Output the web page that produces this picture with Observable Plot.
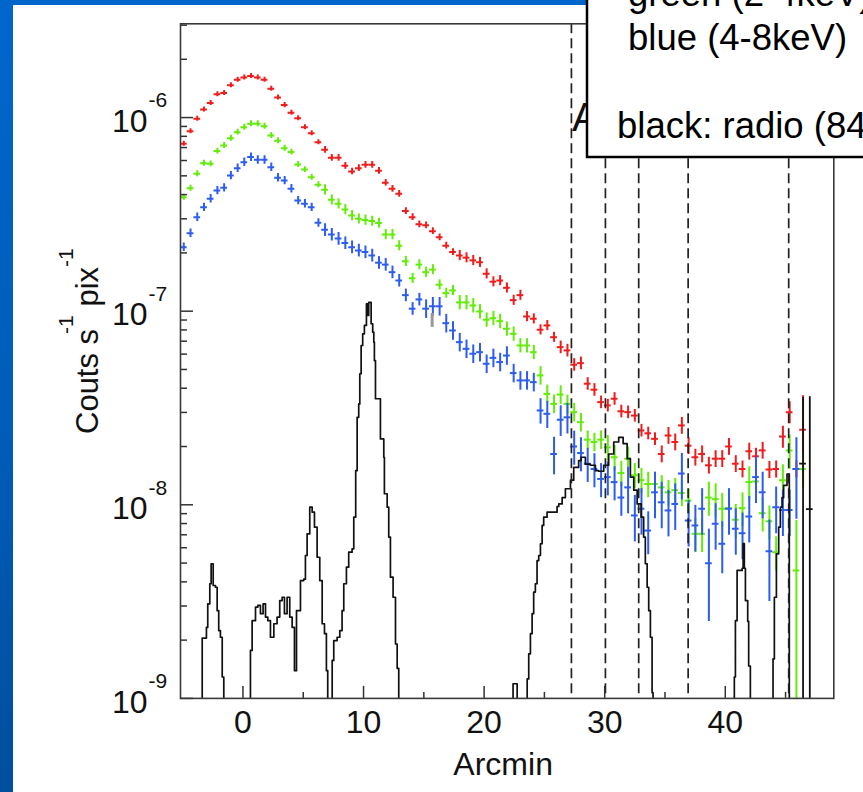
<!DOCTYPE html>
<html><head><meta charset="utf-8">
<script src="https://cdn.jsdelivr.net/npm/d3@7"></script>
<script src="https://cdn.jsdelivr.net/npm/@observablehq/plot@0.6"></script>
<style>
html,body{margin:0;padding:0;width:863px;height:792px;overflow:hidden;}
body{position:relative;background:linear-gradient(to bottom,#0066cc 0%,#005cb8 55%,#004e9e 100%);font-family:"Liberation Sans",Arial,Helvetica,sans-serif;}
#panel{position:absolute;left:13px;top:5px;right:0;bottom:0;background:#fff;}
#chart{position:absolute;left:0;top:0;}
#over{position:absolute;left:0;top:0;pointer-events:none;}
</style>
</head><body>
<div id="panel"></div>
<div id="chart"></div>
<svg id="over" width="863" height="792" font-family="Liberation Sans, Arial, sans-serif">
  <text x="98" y="434" transform="rotate(-90 98 434)" font-size="31" fill="#111">Couts s<tspan dx="-5" dy="-25" font-size="21">-1</tspan><tspan dy="25"> pix</tspan><tspan dy="-25" font-size="21">-1</tspan></text>
  <text x="572" y="131" font-size="40" fill="#111">A</text>
  <rect x="587" y="-10" width="300" height="167" fill="#fff" stroke="#000" stroke-width="2.5"/>
  <text x="628" y="6" font-size="36.5" fill="#000">green (2-4keV)</text>
  <text x="628" y="50" font-size="36.5" fill="#000">blue (4-8keV)</text>
  <text x="617" y="138" font-size="36.5" fill="#000">black: radio (843 MHz)</text>
</svg>
<script>
// ---------- data ----------
const xGrid = [-4.91,-4.35,-3.79,-3.23,-2.68,-2.12,-1.56,-1.00,-0.44,0.11,
0.67,1.23,1.79,2.35,2.91,3.46,4.02,4.58,5.14,5.70,
6.26,6.81,7.37,7.93,8.49,9.05,9.61,10.16,10.72,11.28,
11.84,12.40,12.96,13.51,14.07,14.63,15.19,15.75,16.31,16.86,
17.42,17.98,18.54,19.10,19.66,20.21,20.77,21.33,21.89,22.45,
23.01,23.56,24.12,24.68,25.24,25.80,26.35,26.91,27.47,28.03,
28.59,29.15,29.70,30.26,30.82,31.38,31.94,32.50,33.05,33.61,
34.17,34.73,35.29,35.85,36.40,36.96,37.52,38.08,38.64,39.20,
39.75,40.31,40.87,41.43,41.99,42.55,43.10,43.66,44.22,44.78,
45.34,45.90,46.45,47.01];
const halfBin = 0.279;

const red = [7.32e-7,8.51e-7,9.86e-7,1.10e-6,1.19e-6,1.32e-6,1.34e-6,1.47e-6,1.57e-6,1.61e-6,
1.64e-6,1.61e-6,1.57e-6,1.41e-6,1.27e-6,1.16e-6,1.06e-6,9.93e-7,8.92e-7,8.30e-7,
7.46e-7,6.82e-7,6.20e-7,6.20e-7,5.64e-7,5.27e-7,5.48e-7,5.70e-7,5.70e-7,5.31e-7,
4.61e-7,4.29e-7,4.04e-7,3.29e-7,3.06e-7,2.81e-7,2.78e-7,2.59e-7,2.41e-7,2.18e-7,
2.02e-7,1.94e-7,1.89e-7,1.83e-7,1.79e-7,1.56e-7,1.42e-7,1.44e-7,1.32e-7,1.14e-7,
1.21e-7,9.39e-8,9.14e-8,8.02e-8,8.44e-8,7.34e-8,6.52e-8,6.27e-8,5.29e-8,5.39e-8,
4.22e-8,3.93e-8,3.39e-8,3.26e-8,3.53e-8,3.04e-8,3.01e-8,2.89e-8,2.42e-8,2.34e-8,
2.19e-8,1.83e-8,2.28e-8,2.11e-8,2.57e-8,2.02e-8,1.76e-8,1.83e-8,1.60e-8,1.73e-8,
1.73e-8,2.00e-8,1.63e-8,1.53e-8,1.89e-8,1.78e-8,1.91e-8,1.52e-8,1.53e-8,2.25e-8,
3.01e-8,1.53e-8,2.44e-8];
const redErr = [0.03,0.03,0.03,0.03,0.03,0.03,0.03,0.03,0.03,0.03,
0.03,0.03,0.03,0.03,0.03,0.03,0.03,0.03,0.03,0.03,
0.03,0.04,0.04,0.04,0.04,0.04,0.04,0.04,0.04,0.04,
0.04,0.04,0.04,0.04,0.04,0.04,0.04,0.04,0.04,0.04,
0.04,0.06,0.06,0.06,0.06,0.06,0.06,0.06,0.06,0.06,
0.06,0.06,0.06,0.06,0.06,0.06,0.075,0.075,0.075,0.075,
0.075,0.075,0.075,0.075,0.075,0.075,0.075,0.075,0.075,0.075,
0.075,0.10,0.10,0.10,0.10,0.10,0.10,0.10,0.10,0.10,
0.10,0.10,0.10,0.10,0.10,0.10,0.10,0.10,0.10,0.13,
0.13,0.10,0.5];

const green = [3.88e-7,4.32e-7,5.13e-7,5.81e-7,5.77e-7,6.71e-7,7.18e-7,7.83e-7,8.41e-7,8.92e-7,
9.29e-7,9.29e-7,9.03e-7,8.08e-7,7.59e-7,6.95e-7,6.63e-7,5.73e-7,5.39e-7,4.92e-7,
4.50e-7,4.24e-7,3.76e-7,3.59e-7,3.35e-7,3.12e-7,3.00e-7,2.96e-7,2.92e-7,2.85e-7,
2.49e-7,2.49e-7,2.18e-7,1.81e-7,1.48e-7,1.74e-7,1.59e-7,1.64e-7,1.37e-7,1.24e-7,
1.28e-7,1.11e-7,1.11e-7,1.07e-7,9.96e-8,9.03e-8,9.20e-8,8.88e-8,8.11e-8,7.64e-8,
6.65e-8,6.65e-8,6.14e-8,4.66e-8,3.74e-8,3.32e-8,3.71e-8,3.32e-8,3.01e-8,2.67e-8,
2.17e-8,2.11e-8,2.17e-8,1.98e-8,1.76e-8,1.46e-8,1.73e-8,1.42e-8,1.34e-8,1.28e-8,
1.28e-8,1.23e-8,1.16e-8,1.19e-8,1.15e-8,1.05e-8,7.08e-9,7.08e-9,1.09e-8,1.07e-8,
9.54e-9,9.60e-9,8.37e-9,9.60e-9,1.31e-8,1.32e-8,9.05e-9,8.22e-9,5.69e-9,1.34e-8,
1.91e-8,4.58e-9,1.53e-8];
const greenErr = [0.035,0.035,0.035,0.035,0.035,0.035,0.035,0.035,0.035,0.035,
0.035,0.035,0.035,0.035,0.035,0.035,0.035,0.035,0.035,0.035,
0.035,0.06,0.06,0.06,0.06,0.06,0.06,0.06,0.06,0.06,
0.06,0.06,0.06,0.06,0.06,0.06,0.06,0.06,0.06,0.06,
0.06,0.085,0.085,0.085,0.085,0.085,0.085,0.085,0.085,0.085,
0.085,0.085,0.085,0.11,0.11,0.11,0.11,0.11,0.11,0.11,
0.11,0.11,0.11,0.15,0.15,0.15,0.15,0.15,0.15,0.15,
0.15,0.15,0.15,0.15,0.15,0.15,0.2,0.2,0.2,0.2,
0.2,0.2,0.2,0.2,0.2,0.2,0.2,0.2,0.2,0.2,
0.2,0.81,0.2];

const blue = [2.14e-7,2.53e-7,3.06e-7,3.44e-7,3.81e-7,4.20e-7,4.34e-7,5.02e-7,5.48e-7,5.88e-7,
6.25e-7,6.05e-7,6.05e-7,5.54e-7,4.89e-7,4.73e-7,4.29e-7,3.73e-7,3.59e-7,3.44e-7,
2.86e-7,2.63e-7,2.49e-7,2.37e-7,2.25e-7,2.14e-7,2.06e-7,2.02e-7,1.94e-7,1.78e-7,
1.74e-7,1.59e-7,1.44e-7,1.21e-7,1.03e-7,1.15e-7,1.03e-7,1.06e-7,1.06e-7,8.67e-8,
7.95e-8,6.92e-8,6.39e-8,6.03e-8,6.14e-8,5.35e-8,5.74e-8,5.46e-8,5.90e-8,4.79e-8,
4.39e-8,4.39e-8,4.30e-8,3.07e-8,2.95e-8,1.83e-8,2.75e-8,2.83e-8,2.00e-8,1.85e-8,
1.63e-8,1.53e-8,1.36e-8,1.39e-8,1.31e-8,1.09e-8,1.23e-8,8.81e-9,9.54e-9,7.36e-9,
1.16e-8,1.03e-8,9.35e-9,1.01e-8,1.45e-8,8.29e-9,7.82e-9,9.54e-9,4.99e-9,7.98e-9,
6.29e-9,9.54e-9,7.52e-9,7.13e-9,8.70e-9,1.39e-8,1.16e-8,5.76e-9,9.72e-9,9.4e-9,
9.4e-9,1.53e-8];
const blueErr = [0.05,0.05,0.05,0.05,0.05,0.05,0.05,0.05,0.05,0.05,
0.05,0.05,0.05,0.05,0.05,0.05,0.05,0.05,0.05,0.05,
0.05,0.075,0.075,0.075,0.075,0.075,0.075,0.075,0.075,0.075,
0.075,0.075,0.075,0.075,0.075,0.075,0.11,0.11,0.11,0.11,
0.11,0.11,0.11,0.11,0.11,0.11,0.11,0.11,0.11,0.11,
0.11,0.11,0.11,0.15,0.16,0.22,0.18,0.18,0.2,0.2,
0.2,0.2,0.2,0.2,0.2,0.2,0.27,0.27,0.27,0.25,
0.27,0.27,0.27,0.27,0.27,0.27,0.27,0.27,0.5,0.27,
0.3,0.27,0.27,0.27,0.27,0.27,0.27,0.45,0.27,0.27,
0.27,0.45];

const blackX = [46.45, 47.01];
const blackY = [1.63e-8, 9.5e-9];
const blackErr = [1.2, 2.8];

const Z = 1e-10; // radio zero level (below the axis floor)
const radioX = [-5.18,
-3.38,-3.03,-2.92,-2.75,-2.64,-2.47,-2.28,-2.14,-2.01,-1.87,-1.72,-1.59,
0.62,0.76,1.04,1.23,1.45,1.67,1.87,2.06,2.28,2.56,2.83,3.05,3.25,3.44,3.66,3.88,4.08,4.27,4.44,4.77,5.04,5.18,5.32,5.54,5.74,5.93,6.15,6.37,6.57,6.76,6.92,7.03,
7.40,7.53,7.81,8.03,8.22,8.36,8.58,8.77,9.05,9.19,9.35,9.47,9.60,9.69,9.80,9.93,10.07,10.24,10.33,10.43,10.63,10.76,10.85,10.90,10.99,11.40,11.68,11.73,11.96,12.09,12.23,12.45,12.65,12.79,12.92,
22.40,22.74,
23.57,23.70,23.84,23.98,24.11,24.25,24.39,24.53,24.67,24.81,24.94,25.22,26.05,26.19,26.47,26.74,27.16,27.43,27.84,28.04,28.40,28.81,29.23,29.50,29.92,30.33,30.75,31.16,31.53,31.86,32.13,32.41,32.69,33.02,33.23,33.37,33.52,33.65,33.79,33.93,34.01,
40.75,40.84,40.98,41.40,41.48,41.58,41.67,41.86,41.94,42.08,
43.96,44.07,44.24,44.43,44.57,44.71,44.84,45.12,45.31,49.0];
const radioY = [Z,
2.05e-9,2.33e-9,3.08e-9,3.91e-9,4.96e-9,3.83e-9,3.75e-9,2.84e-9,2.24e-9,2.07e-9,1.29e-9,Z,
1.77e-9,2.52e-9,2.96e-9,3.02e-9,2.74e-9,3.08e-9,2.63e-9,2.52e-9,2.07e-9,2.43e-9,2.63e-9,3.20e-9,3.33e-9,2.74e-9,3.33e-9,2.63e-9,2.33e-9,1.39e-9,2.84e-9,4.06e-9,4.13e-9,5.47e-9,7.08e-9,9.72e-9,9.16e-9,7.66e-9,5.36e-9,4.06e-9,2.43e-9,2.16e-9,1.39e-9,Z,
1.57e-9,1.99e-9,2.07e-9,2.24e-9,2.84e-9,3.91e-9,4.76e-9,5.69e-9,5.92e-9,8.63e-9,1.50e-8,2.83e-8,3.32e-8,4.75e-8,6.65e-8,7.64e-8,8.44e-8,1.09e-7,9.5e-8,1.11e-7,8.61e-8,7.79e-8,6.92e-8,5.56e-8,3.53e-8,2.19e-8,1.76e-8,1.14e-8,9.72e-9,6.81e-9,4.23e-9,3.33e-9,1.91e-9,1.43e-9,Z,
1.19e-9,Z,
1.26e-9,1.70e-9,2.16e-9,2.74e-9,3.54e-9,3.91e-9,5.15e-9,5.47e-9,6.29e-9,7.82e-9,8.63e-9,9.16e-9,9.8e-9,1.01e-8,1.09e-8,1.21e-8,1.34e-8,1.56e-8,1.69e-8,1.76e-8,1.62e-8,1.60e-8,1.50e-8,1.49e-8,1.60e-8,1.83e-8,2.11e-8,2.23e-8,2.07e-8,1.73e-8,1.39e-8,1.19e-8,1.01e-8,8.63e-9,6.81e-9,4.96e-9,3.75e-9,2.84e-9,2.07e-9,1.07e-9,Z,
1.29e-9,2.52e-9,4.58e-9,4.7e-9,6.3e-9,4.7e-9,3.2e-9,2.5e-9,1.47e-9,Z,
1.6e-9,3.33e-9,5.58e-9,7.66e-9,9.72e-9,1.09e-8,1.26e-8,1.44e-8,Z,Z];

const dashedX = [27.24, 30.06, 32.82, 36.92, 45.26];
const grayMarkX = [15.69], grayMarkLo = [8.24e-8], grayMarkHi = [9.73e-8];

const yTicksMajor = [1e-9, 1e-8, 1e-7, 1e-6];
const yTickExp = ["-9", "-8", "-7", "-6"];
const yMinorMantissa = [2, 3, 4, 5, 6, 7, 8, 9];
const xTicksMajor = [0, 10, 20, 30, 40];
const xTicksMinor = [5, 15, 25, 35, 45];

const colors = {red: "#f01c1c", green: "#62ec08", blue: "#2c5cf0"};

// ---------- layout ----------
const W = 863, H = 792;
const mL = 180, mR = 29.7, mT = 23.3, mB = 94.1;
const frameW = W - mL - mR, frameH = H - mT - mB;
const yDomain = [1e-9, 3.05e-6], xDomain = [-5.18, 49.0];

const yTicksMinor = [];
for (let e = -9; e <= -6; e++) for (const m of yMinorMantissa) {
  const v = m * Math.pow(10, e);
  if (v <= yDomain[1]) yTicksMinor.push(v);
}

function crossMarks(vals, errs, color) {
  const d = vals.map((v, i) => ({x: xGrid[i], y: v, lo: Math.max(v * (1 - errs[i]), 1e-12), hi: v * (1 + errs[i])}));
  return [
    Plot.ruleX(d, {x: "x", y1: "lo", y2: "hi", stroke: color, strokeWidth: 2, clip: true}),
    Plot.ruleY(d, {y: "y", x1: p => p.x - halfBin, x2: p => p.x + halfBin, stroke: color, strokeWidth: 2, clip: true})
  ];
}

const radio = radioX.map((x, i) => ({x, y: radioY[i]}));
const blacks = blackX.map((x, i) => ({x, y: blackY[i], lo: Math.max(blackY[i] * (1 - blackErr[i]), 1e-12), hi: blackY[i] * (1 + blackErr[i])}));
const gray = grayMarkX.map((x, i) => ({x, lo: grayMarkLo[i], hi: grayMarkHi[i]}));
const axisColor = "#333";

const chart = Plot.plot({
  width: W, height: H,
  marginLeft: mL, marginRight: mR, marginTop: mT, marginBottom: mB,
  style: {background: "transparent", fontFamily: "Liberation Sans, Arial, Helvetica, sans-serif", color: "#111"},
  x: {domain: xDomain, axis: null},
  y: {type: "log", domain: yDomain, axis: null},
  marks: [
    ...crossMarks(red, redErr, colors.red),
    ...crossMarks(green, greenErr, colors.green),
    ...crossMarks(blue, blueErr, colors.blue),
    Plot.ruleX(blacks, {x: "x", y1: "lo", y2: "hi", stroke: "#111", strokeWidth: 1.8, clip: true}),
    Plot.ruleY(blacks, {y: "y", x1: p => p.x - halfBin, x2: p => p.x + halfBin, stroke: "#111", strokeWidth: 1.8, clip: true}),
    Plot.ruleX(gray, {x: "x", y1: "lo", y2: "hi", stroke: "#999", strokeWidth: 3}),
    Plot.line(radio, {x: "x", y: "y", curve: "step-after", stroke: "#111", strokeWidth: 1.7, clip: true}),
    Plot.ruleX(dashedX, {x: d => d, stroke: "#222", strokeWidth: 1.7, strokeDasharray: "10,5"}),
    Plot.tickY(yTicksMajor, {y: d => d, insetRight: frameW - 13, stroke: axisColor, strokeWidth: 1.5}),
    Plot.tickY(yTicksMinor, {y: d => d, insetRight: frameW - 7, stroke: axisColor, strokeWidth: 1.5}),
    Plot.tickX(xTicksMajor, {x: d => d, insetTop: frameH - 12, stroke: axisColor, strokeWidth: 1.5}),
    Plot.tickX(xTicksMinor, {x: d => d, insetTop: frameH - 6, stroke: axisColor, strokeWidth: 1.5}),
    Plot.frame({stroke: "#3a3a3a", strokeWidth: 1.6}),
    Plot.text(yTicksMajor, {y: d => d, text: () => "10", frameAnchor: "left", textAnchor: "end", dx: -33, dy: 4, fontSize: 32, fill: "#111"}),
    Plot.text(yTicksMajor, {y: d => d, text: (d, i) => yTickExp[i], frameAnchor: "left", textAnchor: "start", dx: -32, dy: -17, fontSize: 21, fill: "#111"}),
    Plot.text(xTicksMajor, {x: d => d, text: d => String(d), frameAnchor: "bottom", dy: 35, fontSize: 32, fill: "#111"}),
    Plot.text(["Arcmin"], {text: d => d, frameAnchor: "bottom", dx: -4, dy: 77, fontSize: 32, fill: "#111"})
  ]
});
document.getElementById("chart").appendChild(chart);
</script>
</body></html>
